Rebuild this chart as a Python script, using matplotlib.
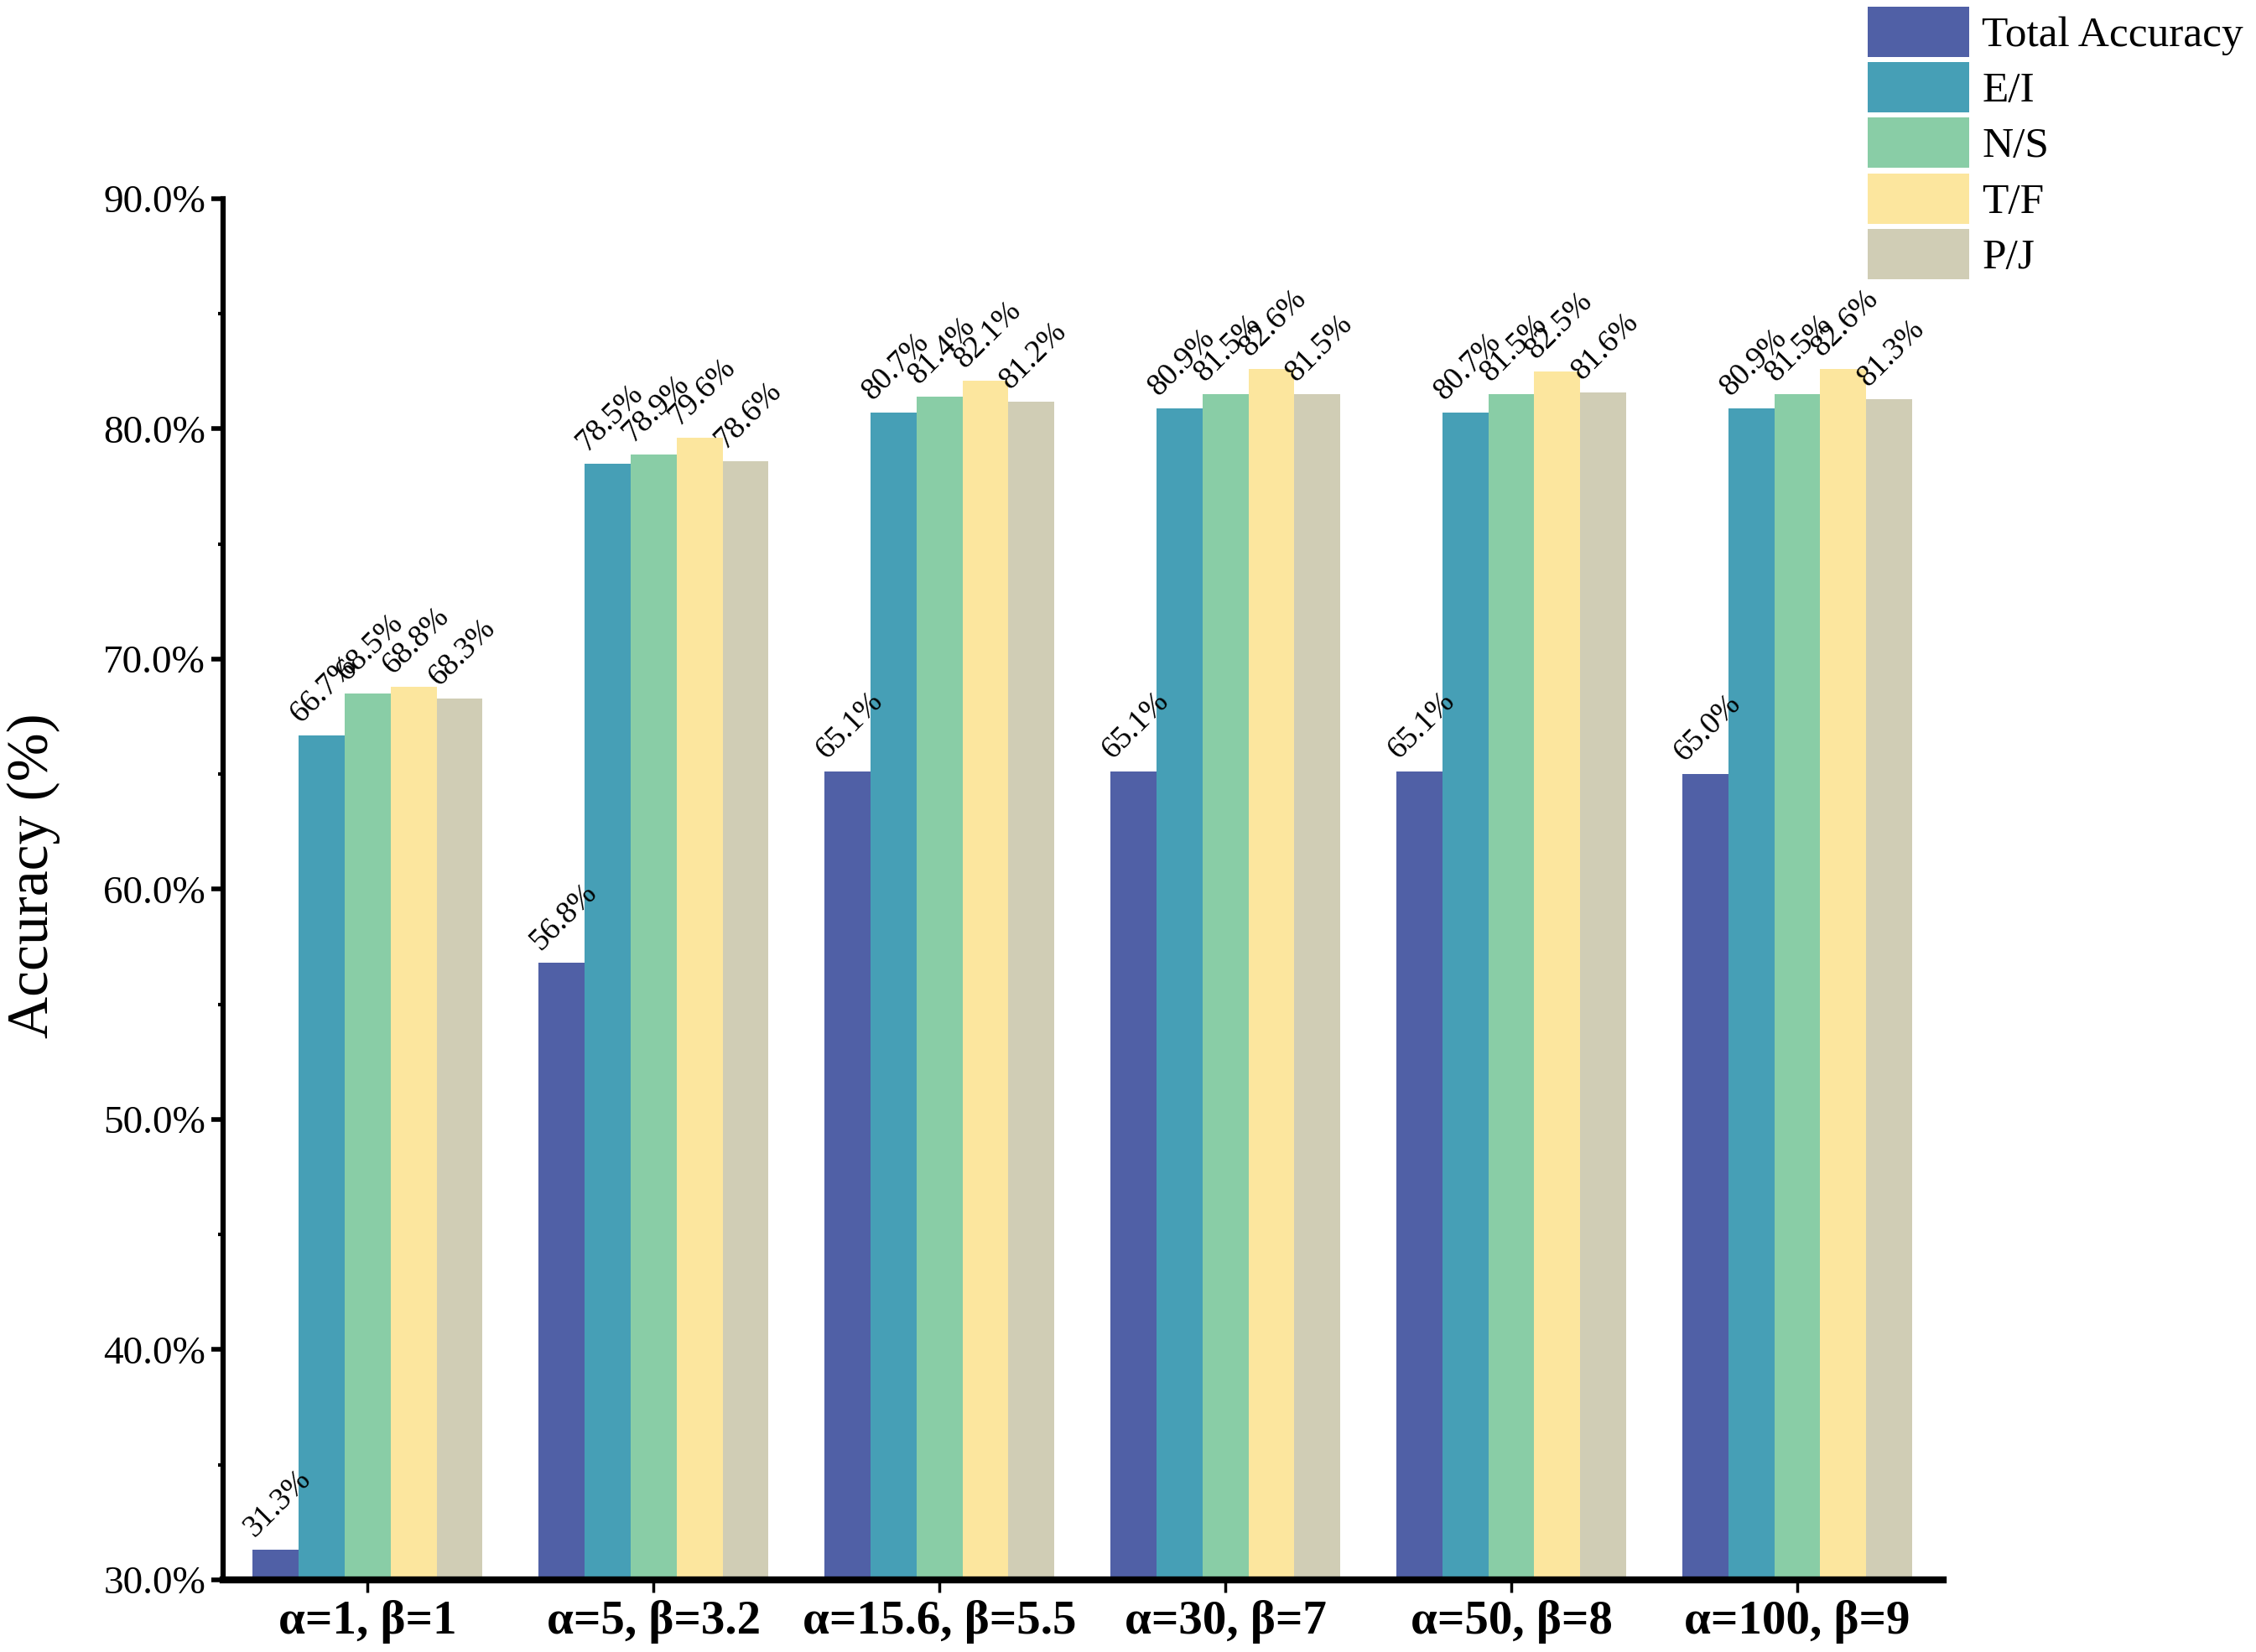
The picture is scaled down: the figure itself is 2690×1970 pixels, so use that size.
import numpy as np
import matplotlib
matplotlib.use("Agg")
import matplotlib.pyplot as plt
from matplotlib.ticker import MultipleLocator, FuncFormatter

plt.rcParams['font.family'] = ['Liberation Serif', 'DejaVu Serif']

groups = ["α=1, β=1", "α=5, β=3.2", "α=15.6, β=5.5",
          "α=30, β=7", "α=50, β=8", "α=100, β=9"]
series_names = ["Total Accuracy", "E/I", "N/S", "T/F", "P/J"]
total_acc = [31.3, 56.8, 65.1, 65.1, 65.1, 65.0]
ei_acc = [66.7, 78.5, 80.7, 80.9, 80.7, 80.9]
ns_acc = [68.5, 78.9, 81.4, 81.5, 81.5, 81.5]
tf_acc = [68.8, 79.6, 82.1, 82.6, 82.5, 82.6]
pj_acc = [68.3, 78.6, 81.2, 81.5, 81.6, 81.3]
colors = ["#5060A6", "#469FB6", "#89CDA6", "#FCE69E", "#D0CDB5"]

series = [total_acc, ei_acc, ns_acc, tf_acc, pj_acc]

fig = plt.figure(figsize=(26.9, 19.7), dpi=100)
ax = fig.add_axes([0.0989, 0.0437, 0.7624, 0.836])

x = np.arange(len(groups))
w = 0.161
for i, (vals, name, c) in enumerate(zip(series, series_names, colors)):
    pos = x + (i - 2) * w
    ax.bar(pos, vals, width=w, color=c, label=name, zorder=2)
    for px, v in zip(pos, vals):
        ax.annotate(f"{v:.1f}%", (px, v), xytext=(2, 6), textcoords="offset points",
                    ha="center", va="bottom", rotation=45, fontsize=27)

ax.set_ylim(30, 90)
ax.set_xlim(-0.505, 5.51)
ax.yaxis.set_major_locator(MultipleLocator(10))
ax.yaxis.set_minor_locator(MultipleLocator(5))
ax.yaxis.set_major_formatter(FuncFormatter(lambda v, p: f"{v:.1f}%"))
ax.set_xticks(x)
ax.set_xticklabels(groups, fontsize=41, fontweight="bold")

for s in ["top", "right"]:
    ax.spines[s].set_visible(False)
ax.spines["left"].set_linewidth(4.5)
ax.spines["bottom"].set_linewidth(6)

ax.tick_params(axis="y", which="major", direction="out", length=10, width=4, labelsize=34, pad=5)
ax.tick_params(axis="y", which="minor", direction="out", length=4, width=3)
ax.tick_params(axis="x", which="major", direction="out", length=11, width=2.5, pad=6)

ax.set_ylabel("Accuracy (%)", fontsize=50)
ax.yaxis.set_label_coords(-0.0946, 0.51)

fig.legend(loc="upper left", bbox_to_anchor=(2227 / 2690, 1 - 8 / 1970),
           frameon=False, fontsize=37, handlelength=2.35, handleheight=1.42,
           labelspacing=0.12, handletextpad=0.3, borderpad=0, borderaxespad=0)

fig.savefig("out.png", dpi=100)
